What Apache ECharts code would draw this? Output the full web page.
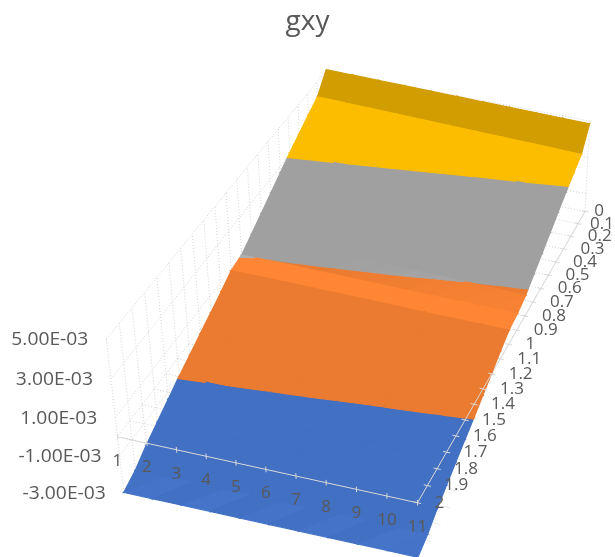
<!DOCTYPE html>
<html>
<head><meta charset="utf-8"><style>html,body{margin:0;background:#fff}#chart{width:615px;height:557px}</style></head>
<body>
<div id="chart"></div>
<script src="https://cdn.jsdelivr.net/npm/echarts@6/dist/echarts.min.js"></script>
<script>
// Column categories along the front axis.
const columnLabels = ['1','2','3','4','5','6','7','8','9','10','11'];
// Row categories along the side axis.
const rowLabels = ['0','0.1','0.2','0.3','0.4','0.5','0.6','0.7','0.8','0.9','1','1.1','1.2','1.3','1.4','1.5','1.6','1.7','1.8','1.9','2'];
const rowValues = [0,0.1,0.2,0.3,0.4,0.5,0.6,0.7,0.8,0.9,1,1.1,1.2,1.3,1.4,1.5,1.6,1.7,1.8,1.9,2];
// Vertical axis, in units of 1E-03.
const zTicks = [5,3,1,-1,-3];
const zLabels = ['5.00E-03','3.00E-03','1.00E-03','-1.00E-03','-3.00E-03'];
// gxy in units of 1E-03: one line per row, one value per column.
const gxy = [
  [5.05,5.01,4.96,4.92,4.87,4.83,4.78,4.74,4.69,4.65,4.60],
  [4.20,4.14,4.08,4.02,3.96,3.90,3.84,3.78,3.72,3.66,3.60],
  [3.85,3.79,3.73,3.67,3.61,3.55,3.49,3.43,3.37,3.31,3.25],
  [3.47,3.41,3.35,3.30,3.24,3.18,3.12,3.06,3.01,2.95,2.89],
  [3.10,3.04,2.98,2.92,2.86,2.80,2.73,2.67,2.61,2.55,2.49],
  [2.68,2.62,2.56,2.50,2.44,2.38,2.33,2.27,2.21,2.15,2.09],
  [2.26,2.20,2.14,2.08,2.03,1.97,1.91,1.85,1.80,1.74,1.68],
  [1.84,1.78,1.73,1.67,1.62,1.56,1.50,1.45,1.39,1.34,1.28],
  [1.42,1.37,1.31,1.26,1.20,1.15,1.10,1.04,0.99,0.93,0.88],
  [1.02,0.98,0.95,0.91,0.87,0.83,0.79,0.75,0.72,0.68,0.64],
  [0.90,0.86,0.83,0.79,0.75,0.72,0.68,0.63,0.60,0.56,0.52],
  [0.50,0.47,0.43,0.40,0.37,0.34,0.30,0.27,0.24,0.20,0.17],
  [0.13,0.10,0.06,0.03,-0.01,-0.05,-0.08,-0.12,-0.15,-0.19,-0.22],
  [-0.23,-0.27,-0.30,-0.34,-0.38,-0.42,-0.45,-0.49,-0.53,-0.56,-0.60],
  [-0.60,-0.64,-0.68,-0.71,-0.75,-0.79,-0.83,-0.87,-0.90,-0.94,-0.98],
  [-0.96,-1.00,-1.03,-1.07,-1.10,-1.14,-1.18,-1.21,-1.25,-1.28,-1.32],
  [-1.37,-1.40,-1.43,-1.46,-1.49,-1.53,-1.56,-1.59,-1.62,-1.65,-1.68],
  [-1.78,-1.81,-1.83,-1.86,-1.89,-1.92,-1.94,-1.97,-2.00,-2.02,-2.05],
  [-2.18,-2.21,-2.23,-2.26,-2.28,-2.31,-2.33,-2.36,-2.38,-2.41,-2.43],
  [-2.68,-2.74,-2.68,-2.78,-2.72,-2.80,-2.76,-2.84,-2.80,-2.90,-2.90],
  [-3.00,-3.02,-3.04,-3.06,-3.08,-3.10,-3.12,-3.14,-3.16,-3.18,-3.20]
];

// Value bands of the surface and the fill of each.
const bandEdges = [-Infinity,-1,1,3,Infinity];
const bandColors = ['#4270c2','#eb7b30','#a0a0a0','#fcbd00'];

// Perspective camera: (column, row, z) to the plane of the hidden 2D axes.
const CAM = [24.51618,-114.9508,-2.481035,304.2440,4.676306,103.5075,-18.40586,155.8527,-0.001742345,-0.07839556,-0.005704593];
// The surface plane sits slightly skewed against the axes, column by column.
const SURFACE_SKEW = 0.025;
function project(c, r, z) {
  const w = CAM[8]*c + CAM[9]*r + CAM[10]*z + 1;
  return [(CAM[0]*c + CAM[1]*r + CAM[2]*z + CAM[3])/w, (CAM[4]*c + CAM[5]*r + CAM[6]*z + CAM[7])/w];
}
const GRID = '#d4d4d4', AXIS = '#d9d9d9', TEXT = '#595959', FONT = '"Open Sans"';
const firstCol = 1, lastCol = columnLabels.length, nearRow = 2, farRow = 0;

// Brightness of a facet from how steeply it climbs along the rows.
function facetShade(s) {
  const a = [[1.5,1.09],[3.0,1.03],[3.4,1],[5.6,1],[6,0.83]];
  if (s <= a[0][0]) return a[0][1];
  for (let i = 1; i < a.length; i++) if (s <= a[i][0]) {
    const t = (s - a[i-1][0])/(a[i][0] - a[i-1][0]);
    return a[i-1][1] + t*(a[i][1] - a[i-1][1]);
  }
  return a[a.length-1][1];
}
function shadeColor(hex, k) {
  const n = parseInt(hex.slice(1), 16);
  const ch = s => Math.min(255, Math.round(((n >> s) & 255)*k));
  return 'rgb(' + ch(16) + ',' + ch(8) + ',' + ch(0) + ')';
}
// Keeps the part of a polygon (column, row, z) on one side of a z level.
function clipZ(poly, level, keepAbove) {
  const out = [];
  for (let i = 0; i < poly.length; i++) {
    const a = poly[i], b = poly[(i+1)%poly.length];
    const ia = keepAbove ? a[2] >= level : a[2] <= level;
    const ib = keepAbove ? b[2] >= level : b[2] <= level;
    if (ia) out.push(a);
    if (ia !== ib) {
      const t = (level - a[2])/(b[2] - a[2]);
      out.push([a[0]+t*(b[0]-a[0]), a[1]+t*(b[1]-a[1]), level]);
    }
  }
  return out;
}
function coordOf(api, c, r, z) { return api.coord(project(c, r, z)); }
function line(api, from, to, stroke, dash) {
  const p = coordOf(api, from[0], from[1], from[2]), q = coordOf(api, to[0], to[1], to[2]);
  return {type:'line', shape:{x1:p[0], y1:p[1], x2:q[0], y2:q[1]}, style:{stroke:stroke, lineWidth:1, lineDash:dash||null}};
}

// One surface cell: two triangles, each cut along the value bands.
function renderCell(params, api) {
  const i = api.value(0), j = api.value(1);
  const c0 = i+1, c1 = i+2, r0 = rowValues[j], r1 = rowValues[j+1];
  const z00 = gxy[j][i], z10 = gxy[j][i+1], z01 = gxy[j+1][i], z11 = gxy[j+1][i+1];
  const tris = [
    {pts:[[c0,r0,z00],[c1,r0,z10],[c0,r1,z01]], s:Math.abs(z01-z00)/(r1-r0)},
    {pts:[[c1,r1,z11],[c1,r0,z10],[c0,r1,z01]], s:Math.abs(z11-z10)/(r1-r0)}
  ];
  const children = [];
  tris.forEach(function(t){
    const k = facetShade(t.s);
    for (let b = 0; b < bandColors.length; b++) {
      let p = t.pts;
      if (isFinite(bandEdges[b])) p = clipZ(p, bandEdges[b], true);
      if (p.length && isFinite(bandEdges[b+1])) p = clipZ(p, bandEdges[b+1], false);
      if (p.length < 3) continue;
      const col = shadeColor(bandColors[b], k);
      children.push({type:'polygon', shape:{points:p.map(q=>coordOf(api,q[0],q[1],q[2]+SURFACE_SKEW*(q[0]-1)))},
        style:{fill:col, stroke:col, lineWidth:1.2}});
    }
  });
  return {type:'group', children:children};
}

// Dotted walls and base plane behind the surface, plus the hidden part of the side axis.
function renderWalls(params, api) {
  const ch = [], dash = [1,2], top = zTicks[0], bot = zTicks[zTicks.length-1];
  rowValues.forEach(function(r){
    ch.push(line(api,[firstCol,r,bot],[firstCol,r,top],GRID,dash));
    ch.push(line(api,[firstCol,r,0],[lastCol,r,0],GRID,dash));
  });
  columnLabels.forEach(function(_,i){
    ch.push(line(api,[i+1,farRow,0],[i+1,farRow,top],GRID,dash));
    ch.push(line(api,[i+1,farRow,0],[i+1,nearRow,0],GRID,dash));
  });
  zTicks.forEach(function(z){
    ch.push(line(api,[firstCol,nearRow,z],[firstCol,farRow,z],GRID,dash));
    if (z > 0) ch.push(line(api,[firstCol,farRow,z],[lastCol,farRow,z],GRID,dash));
  });
  ch.push(line(api,[lastCol,farRow,0],[lastCol,nearRow,0],AXIS));
  rowValues.forEach(function(r){
    ch.push(line(api,[lastCol-0.12,r,0],[lastCol+0.12,r,0],AXIS));
    if (r >= 1.5) ch.push(line(api,[lastCol-0.12,r,bot],[lastCol+0.12,r,bot],'#e8e8e8'));
  });
  return {type:'group', children:ch};
}

// The part of the axes in front of the surface, with every label.
function renderAxes(params, api) {
  const ch = [];
  ch.push(line(api,[firstCol,nearRow,0],[lastCol,nearRow,0],AXIS));
  ch.push(line(api,[lastCol,1.2,0],[lastCol,nearRow,0],AXIS));
  columnLabels.forEach(function(t,i){
    ch.push(line(api,[i+1,nearRow,-0.15],[i+1,nearRow,0.15],AXIS));
    const p = coordOf(api,i+1,nearRow,0);
    ch.push({type:'text', x:p[0], y:p[1]+24, style:{text:t, fill:TEXT, font:'17px '+FONT, textAlign:'center', textVerticalAlign:'middle'}});
  });
  rowValues.forEach(function(r,j){
    if (r >= 1.2) ch.push(line(api,[lastCol-0.12,r,0],[lastCol+0.12,r,0],AXIS));
    const p = coordOf(api,lastCol,r,0);
    const gap = r === 0 ? 9 : r === 0.1 ? 12 : 17;
    ch.push({type:'text', x:p[0]+gap, y:p[1], style:{text:rowLabels[j], fill:TEXT, font:'17px '+FONT, textAlign:'left', textVerticalAlign:'middle'}});
  });
  zTicks.forEach(function(z,k){
    const p = coordOf(api,firstCol,nearRow,z);
    ch.push({type:'text', x:p[0]-18, y:p[1]+1, scaleX:1.07, style:{text:zLabels[k], fill:TEXT, font:'18px '+FONT, textAlign:'right', textVerticalAlign:'middle'}});
  });
  return {type:'group', children:ch};
}

// Painter's order for the cells: far rows first.
const cells = [];
for (let j = 0; j < rowValues.length-1; j++)
  for (let i = 0; i < columnLabels.length-1; i++) cells.push([i, j]);

const chart = echarts.init(document.getElementById('chart'), null, {renderer:'canvas'});
chart.setOption({
  animation:false,
  backgroundColor:'#fff',
  title:{text:'gxy', left:'center', top:3, textStyle:{color:TEXT, fontFamily:FONT, fontSize:28, fontWeight:'normal'}},
  grid:{left:0, right:0, top:0, bottom:0},
  xAxis:{type:'value', min:0, max:615, show:false},
  yAxis:{type:'value', min:0, max:557, inverse:true, show:false},
  series:[
    {type:'custom', coordinateSystem:'cartesian2d', clip:false, silent:true, z:1, data:[[0]], renderItem:renderWalls},
    {type:'custom', coordinateSystem:'cartesian2d', clip:false, silent:true, z:2, data:cells, encode:{x:0,y:1}, renderItem:renderCell},
    {type:'custom', coordinateSystem:'cartesian2d', clip:false, silent:true, z:3, data:[[0]], renderItem:renderAxes}
  ]
});
</script>
</body>
</html>
